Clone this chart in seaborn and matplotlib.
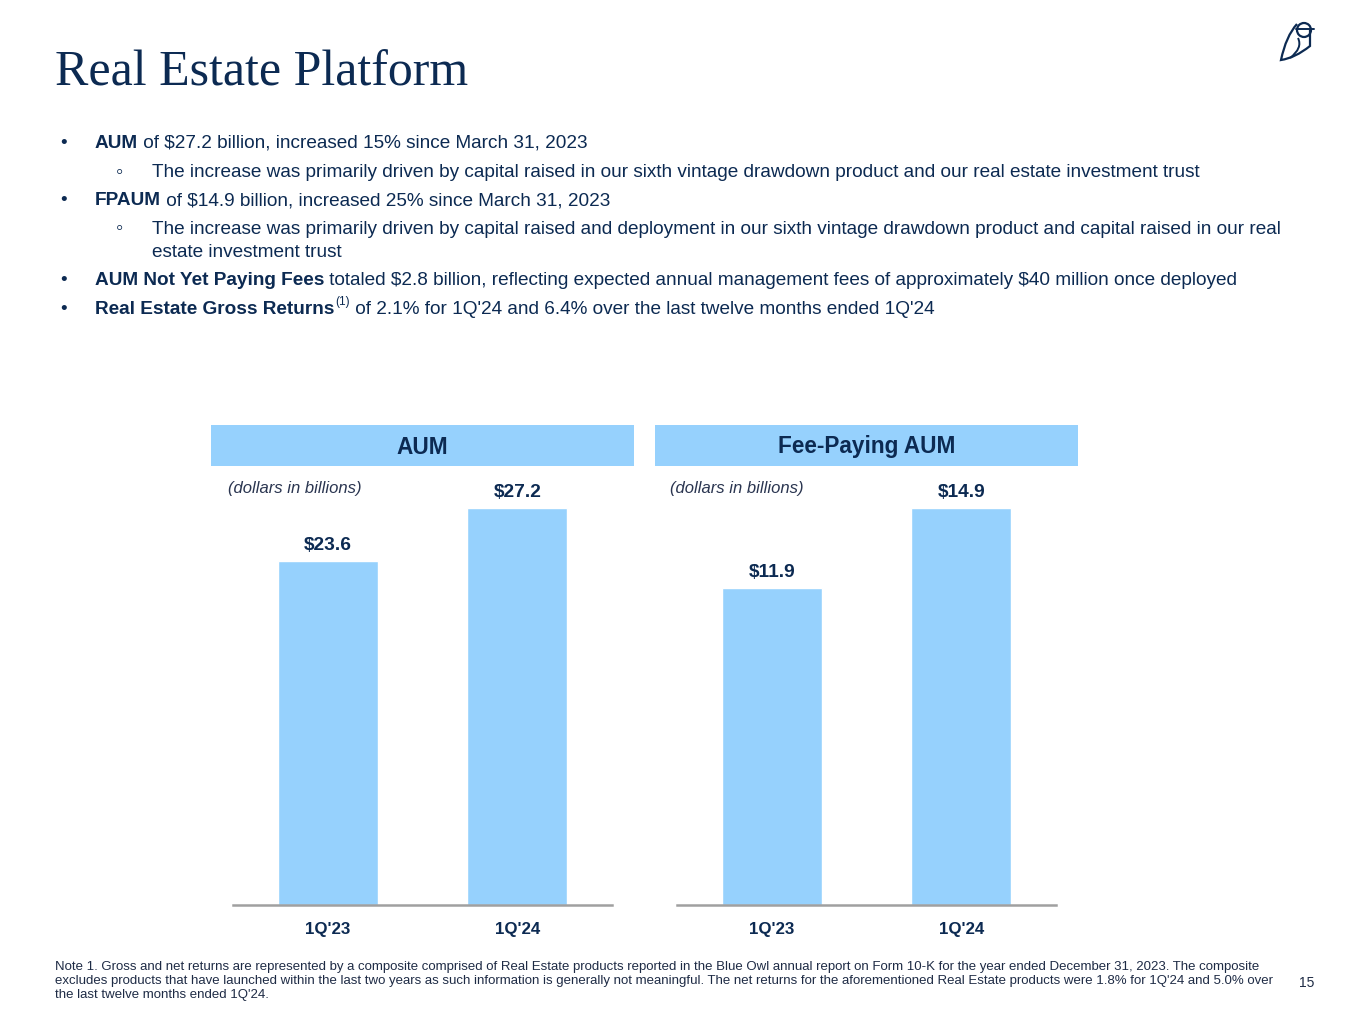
import numpy as np
import pandas as pd
import matplotlib
matplotlib.use("Agg")
import matplotlib.pyplot as plt
import seaborn as sb
from matplotlib.patches import Rectangle, PathPatch, Circle
from matplotlib.path import Path

# values
quarters = ["1Q'23", "1Q'24"]
aum = [23.6, 27.2]
fpaum = [11.9, 14.9]
aum_labels = ["$23.6", "$27.2"]
fpaum_labels = ["$11.9", "$14.9"]

W, H = 1365, 1024
NAVY = "#0c2a52"
BLUE = "#96d1fd"
GREY = "#a0a0a0"
SANS = ["Liberation Sans", "DejaVu Sans"]

sb.set_theme(style="white")
plt.rcParams["font.family"] = SANS
plt.rcParams["text.parse_math"] = False

fig = plt.figure(figsize=(W / 100, H / 100), dpi=100)
rend = fig.canvas.get_renderer()

# full page axes in pixel coordinates for the text
bg = fig.add_axes([0, 0, 1, 1])
bg.set_xlim(0, W)
bg.set_ylim(H, 0)
bg.axis("off")

bg.text(55, 85, "Real Estate Platform", fontsize=36, family="Liberation Serif",
        color=NAVY, va="baseline", ha="left")


def runs(x, y, parts, size=13.7):
    # y is the baseline in pixels; each piece starts where the last one ended
    for txt, weight in parts:
        if weight == "sup":
            t = bg.text(x + 1, y - 9, txt, fontsize=size * 0.62, color=NAVY,
                        va="baseline", ha="left")
        else:
            t = bg.text(x, y, txt, fontsize=size, fontweight=weight, color=NAVY,
                        va="baseline", ha="left")
        x += t.get_window_extent(renderer=rend).width + (1 if weight == "sup" else 0)


bullets = [
    (148, 0, [("AUM", "bold"), (" of $27.2 billion, increased 15% since March 31, 2023", "normal")]),
    (177, 1, [("The increase was primarily driven by capital raised in our sixth vintage drawdown product and our real estate investment trust", "normal")]),
    (205, 0, [("FPAUM", "bold"), (" of $14.9 billion, increased 25% since March 31, 2023", "normal")]),
    (234, 1, [("The increase was primarily driven by capital raised and deployment in our sixth vintage drawdown product and capital raised in our real", "normal")]),
    (257, 2, [("estate investment trust", "normal")]),
    (285, 0, [("AUM Not Yet Paying Fees", "bold"), (" totaled $2.8 billion, reflecting expected annual management fees of approximately $40 million once deployed", "normal")]),
    (314, 0, [("Real Estate Gross Returns", "bold"), ("(1)", "sup"), (" of 2.1% for 1Q'24 and 6.4% over the last twelve months ended 1Q'24", "normal")]),
]
for y, level, parts in bullets:
    if level == 0:
        bg.text(60, y, "\u2022", fontsize=13.7, color=NAVY, va="baseline", ha="left")
        runs(95, y, parts)
    elif level == 1:
        bg.text(120, y - 5, "\u25e6", fontsize=15, color=NAVY, va="center", ha="center")
        runs(152, y, parts)
    else:
        runs(152, y, parts)


def panel(x0, x1, title, values, labels, tag_x):
    # header band
    bg.add_patch(Rectangle((x0 - 22, 425), (x1 - x0) + 44, 41, color=BLUE, lw=0))
    bg.text((x0 + x1) / 2, 447, title, fontsize=16.3, fontweight="bold",
            color=NAVY, ha="center", va="center")
    bg.text(tag_x, 489, "(dollars in billions)", fontsize=12, style="italic",
            color="#2a3550", ha="left", va="center")

    top, base = 470, 905
    ax = fig.add_axes([x0 / W, 1 - base / H, (x1 - x0) / W, (base - top) / H])
    sb.barplot(x=quarters, y=values, color=BLUE, saturation=1, width=0.53, ax=ax)
    ax.set_xlim(-0.5, 1.5)
    ax.set_ylim(0, max(values) * (base - top) / 397)
    ax.bar_label(ax.containers[0], labels=labels, padding=5, fontsize=13.8,
                 fontweight="bold", color=NAVY)
    for s in ["top", "left", "right"]:
        ax.spines[s].set_visible(False)
    ax.spines["bottom"].set_color(GREY)
    ax.spines["bottom"].set_linewidth(1.8)
    ax.set_yticks([])
    ax.tick_params(axis="x", length=0, pad=12)
    for t in ax.get_xticklabels():
        t.set_fontweight("bold")
        t.set_fontsize(12.2)
        t.set_color(NAVY)
    ax.set_xlabel("")
    ax.set_ylabel("")
    ax.patch.set_alpha(0)


panel(233, 612, "AUM", aum, aum_labels, 228)
panel(677, 1056, "Fee-Paying AUM", fpaum, fpaum_labels, 670)

note = ("Note 1. Gross and net returns are represented by a composite comprised of Real Estate products reported in the Blue Owl annual report on Form 10-K for the year ended December 31, 2023. The composite\n"
        "excludes products that have launched within the last two years as such information is generally not meaningful. The net returns for the aforementioned Real Estate products were 1.8% for 1Q'24 and 5.0% over\n"
        "the last twelve months ended 1Q'24.")
bg.text(55, 961, note, fontsize=9.5, color="#1e2b45", ha="left", va="top",
        linespacing=1.2)
bg.text(1307, 983, "15", fontsize=10, color="#1e2b45", ha="center", va="center")

# small owl mark top right
owl = Path([(1297, 24), (1286, 36), (1281, 60), (1281, 60),
            (1295, 58), (1310, 46), (1310, 30)],
           [Path.MOVETO, Path.CURVE3, Path.CURVE3, Path.LINETO,
            Path.CURVE3, Path.CURVE3, Path.LINETO])
bg.add_patch(PathPatch(owl, fill=False, ec=NAVY, lw=1.6))
bg.add_patch(Circle((1304, 30), 7, fill=False, ec=NAVY, lw=1.6))
wing = Path([(1298, 38), (1303, 48), (1290, 58)], [Path.MOVETO, Path.CURVE3, Path.CURVE3])
bg.add_patch(PathPatch(wing, fill=False, ec=NAVY, lw=1.4))
bg.plot([1296, 1314], [29, 29], color=NAVY, lw=1.4)

fig.savefig("out.png", dpi=100)
